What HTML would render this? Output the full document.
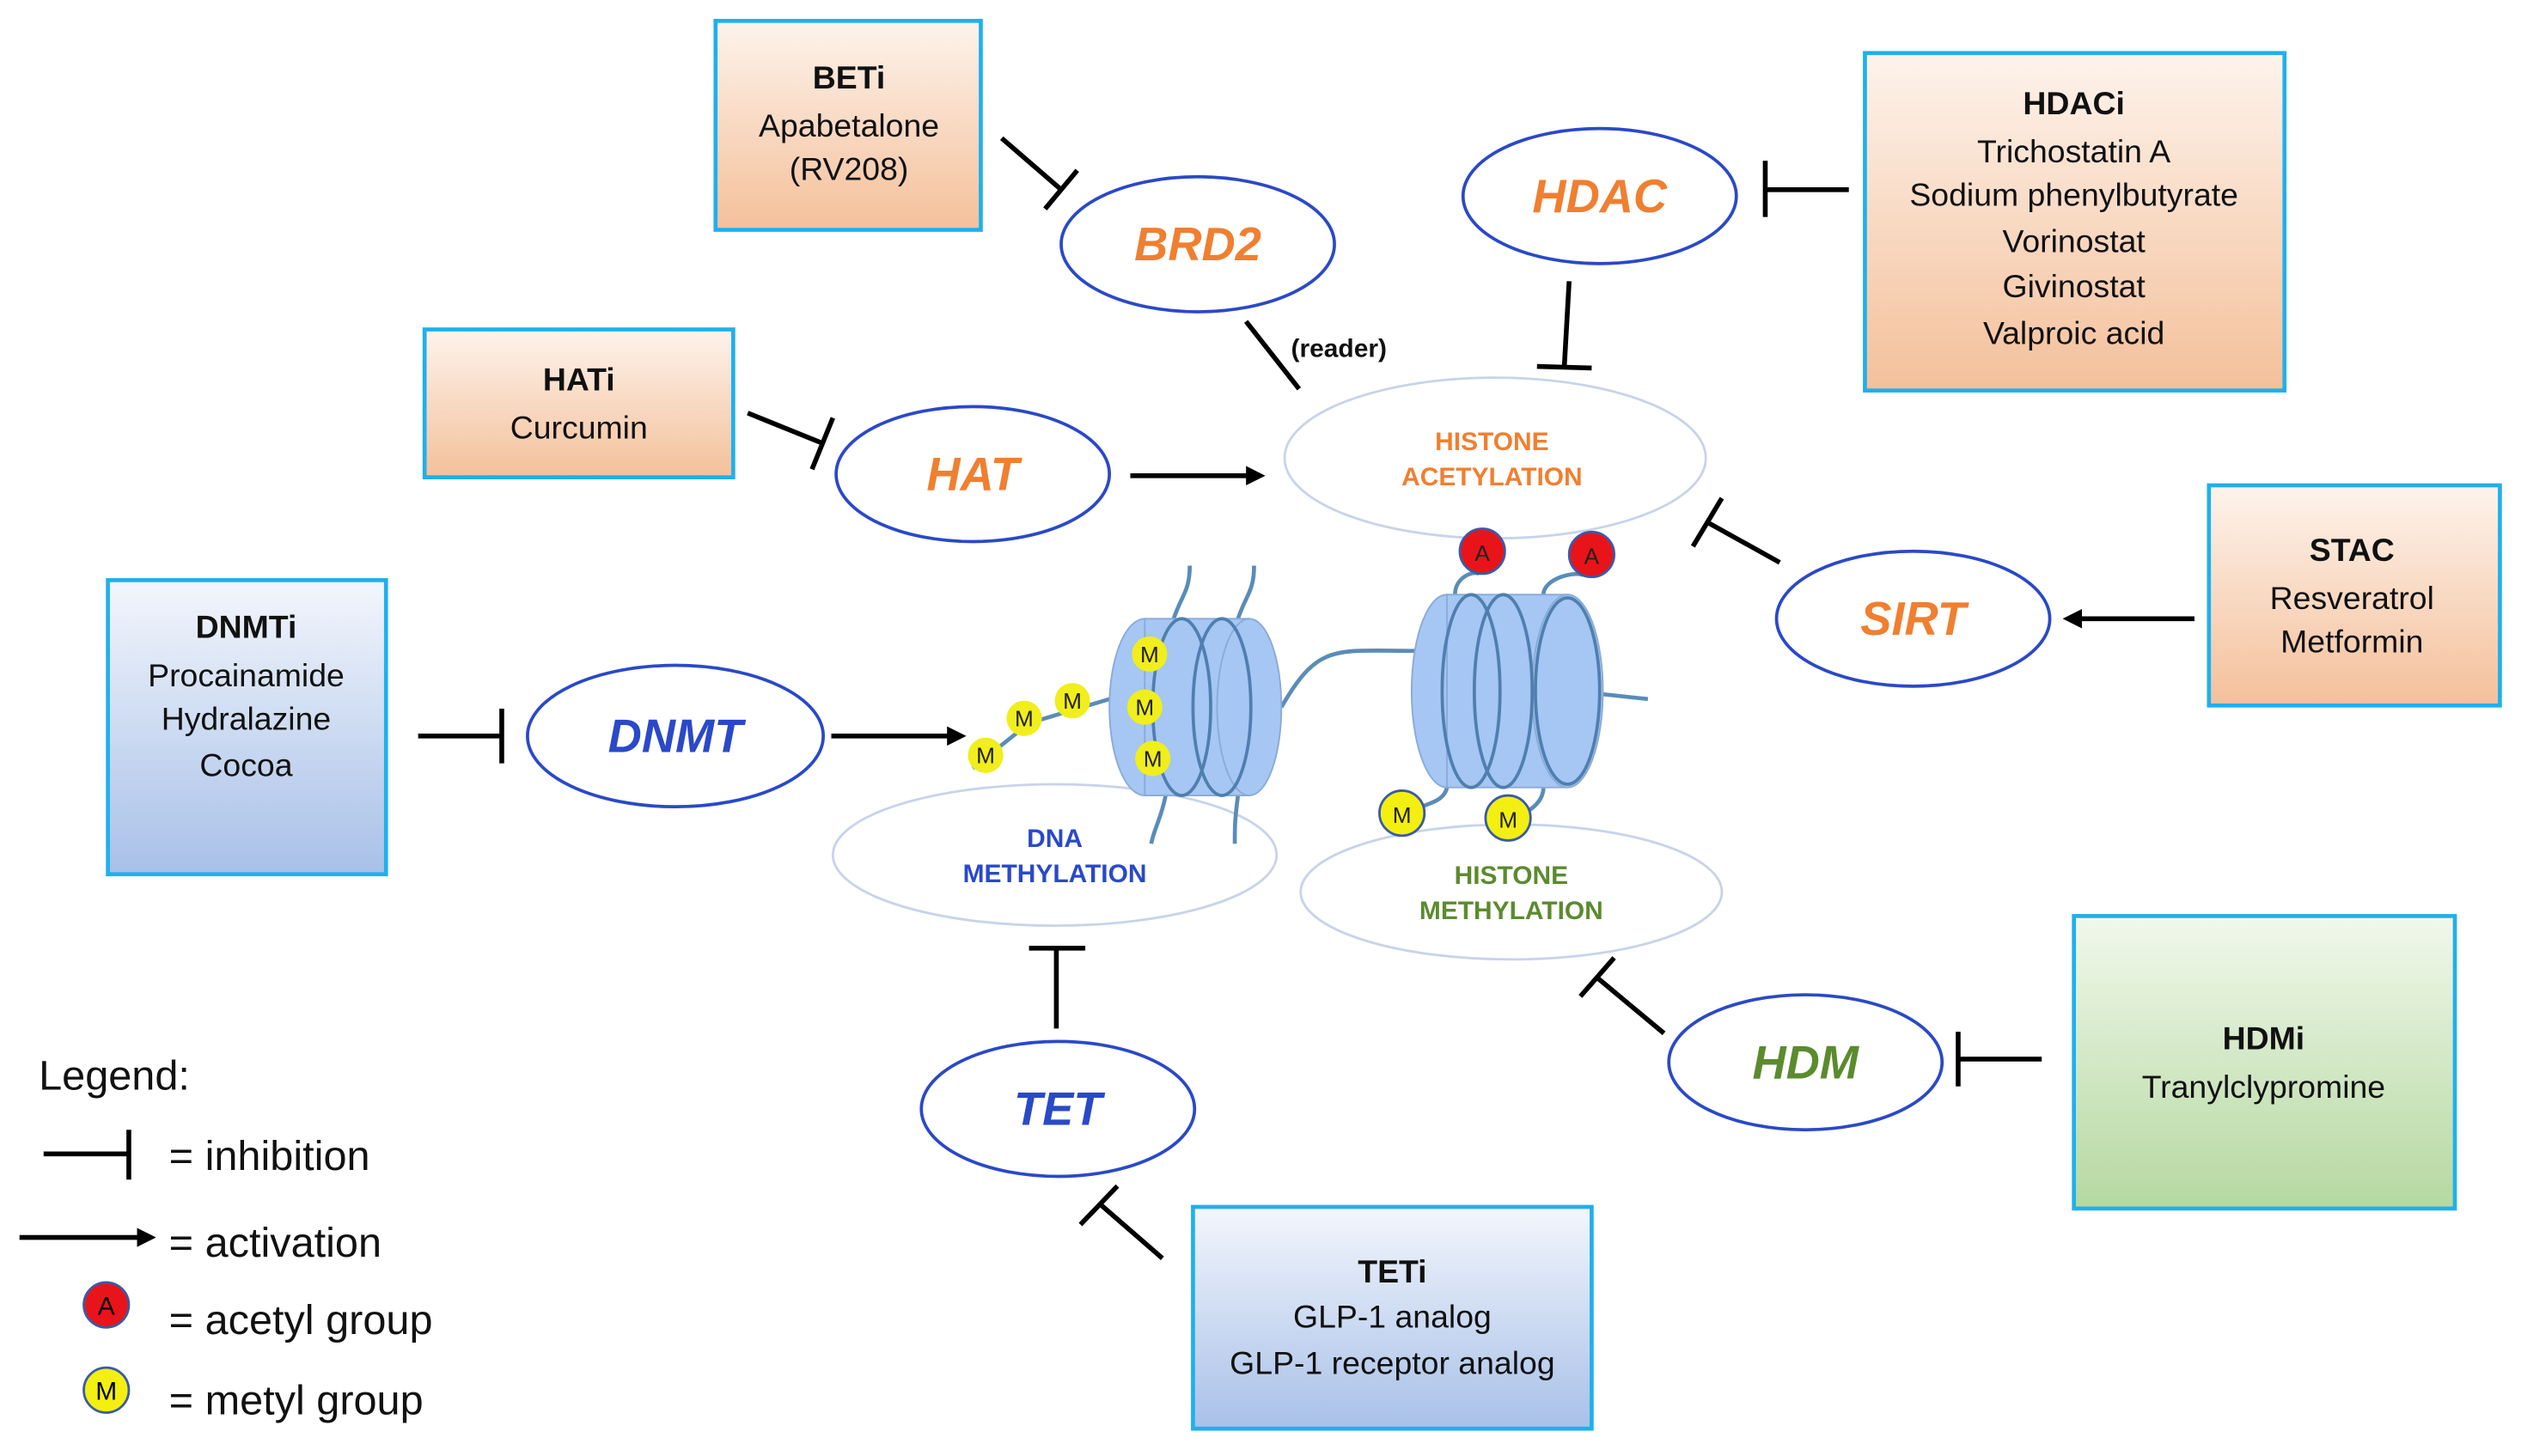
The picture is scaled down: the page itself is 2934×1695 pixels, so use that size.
<!DOCTYPE html>
<html><head><meta charset="utf-8"><style>
html,body{margin:0;padding:0;background:#fff;}
svg{display:block;}
text{font-family:"Liberation Sans",sans-serif;}
</style></head><body>
<svg width="2934" height="1695" viewBox="0 0 1568 906" xmlns="http://www.w3.org/2000/svg">
<defs>
<linearGradient id="og" x1="0" y1="0" x2="0" y2="1"><stop offset="0" stop-color="#fdf3ec"/><stop offset="1" stop-color="#f4c09a"/></linearGradient>
<linearGradient id="bg" x1="0" y1="0" x2="0" y2="1"><stop offset="0" stop-color="#f3f6fc"/><stop offset="1" stop-color="#a8c0e8"/></linearGradient>
<linearGradient id="gg" x1="0" y1="0" x2="0" y2="1"><stop offset="0" stop-color="#f1f8ec"/><stop offset="1" stop-color="#b5d8a0"/></linearGradient>
<marker id="ar" markerWidth="12" markerHeight="12" refX="9" refY="6" orient="auto" markerUnits="userSpaceOnUse"><path d="M0,0 L12,6 L0,12 z" fill="#000"/></marker>
</defs>
<rect width="1568" height="906" fill="#fff"/>

<g stroke="#1fb0ec" stroke-width="2.5">
<rect x="445" y="13" width="165" height="130" fill="url(#og)"/>
<rect x="264" y="205" width="192" height="92" fill="url(#og)"/>
<rect x="1160" y="33" width="261" height="210" fill="url(#og)"/>
<rect x="1374" y="302" width="181" height="137" fill="url(#og)"/>
<rect x="67" y="361" width="173" height="183" fill="url(#bg)"/>
<rect x="1290" y="570" width="237" height="182" fill="url(#gg)"/>
<rect x="742" y="751" width="248" height="138" fill="url(#bg)"/>
</g>
<g font-size="20" text-anchor="middle" fill="#111">
<text x="528" y="55" font-weight="bold">BETi</text><text x="528" y="85">Apabetalone</text><text x="528" y="112">(RV208)</text>
<text x="360" y="243" font-weight="bold">HATi</text><text x="360" y="273">Curcumin</text>
<text x="1290" y="71" font-weight="bold">HDACi</text><text x="1290" y="101">Trichostatin A</text><text x="1290" y="128">Sodium phenylbutyrate</text><text x="1290" y="157">Vorinostat</text><text x="1290" y="185">Givinostat</text><text x="1290" y="214">Valproic acid</text>
<text x="1463" y="349" font-weight="bold">STAC</text><text x="1463" y="379">Resveratrol</text><text x="1463" y="406">Metformin</text>
<text x="153" y="397" font-weight="bold">DNMTi</text><text x="153" y="427">Procainamide</text><text x="153" y="454">Hydralazine</text><text x="153" y="483">Cocoa</text>
<text x="1408" y="653" font-weight="bold">HDMi</text><text x="1408" y="683">Tranylclypromine</text>
<text x="866" y="798" font-weight="bold">TETi</text><text x="866" y="826">GLP-1 analog</text><text x="866" y="855">GLP-1 receptor analog</text>
</g>

<g fill="none" stroke="#c8d3ea" stroke-width="1.5">
<ellipse cx="930" cy="285" rx="131" ry="50"/>
<ellipse cx="656" cy="532" rx="138" ry="44"/>
<ellipse cx="940" cy="555" rx="131" ry="42"/>
</g>
<g font-size="16" font-weight="bold" text-anchor="middle">
<text x="928" y="280" fill="#f07f30">HISTONE</text><text x="928" y="302" fill="#f07f30">ACETYLATION</text>
<text x="656" y="527" fill="#2a49c8">DNA</text><text x="656" y="549" fill="#2a49c8">METHYLATION</text>
<text x="940" y="550" fill="#5b8b2e">HISTONE</text><text x="940" y="572" fill="#5b8b2e">METHYLATION</text>
</g>

<g fill="#fff" stroke="#2a49c8" stroke-width="2">
<ellipse cx="745" cy="152" rx="85" ry="42"/>
<ellipse cx="995" cy="122" rx="85" ry="42"/>
<ellipse cx="605" cy="295" rx="85" ry="42"/>
<ellipse cx="1190" cy="385" rx="85" ry="42"/>
<ellipse cx="420" cy="458" rx="92" ry="44"/>
<ellipse cx="658" cy="690" rx="85" ry="42"/>
<ellipse cx="1123" cy="661" rx="85" ry="42"/>
</g>
<g font-size="29" font-weight="bold" font-style="italic" text-anchor="middle">
<text x="745" y="162" fill="#f07f30">BRD2</text>
<text x="995" y="132" fill="#f07f30">HDAC</text>
<text x="605" y="305" fill="#f07f30">HAT</text>
<text x="1190" y="395" fill="#f07f30">SIRT</text>
<text x="420" y="468" fill="#2a49c8">DNMT</text>
<text x="658" y="700" fill="#2a49c8">TET</text>
<text x="1123" y="671" fill="#5b8b2e">HDM</text>
</g>

<g stroke="#000" stroke-width="3" fill="none" stroke-linecap="butt">
<line x1="623" y1="86" x2="660" y2="118"/><line x1="650" y1="130" x2="670" y2="106"/>
<line x1="775" y1="200" x2="808" y2="242"/>
<line x1="976" y1="175" x2="973" y2="228"/><line x1="956" y1="228" x2="990" y2="229"/>
<line x1="1150" y1="118" x2="1098" y2="118"/><line x1="1098" y1="100" x2="1098" y2="135"/>
<line x1="465" y1="257" x2="512" y2="276"/><line x1="505" y1="292" x2="518" y2="260"/>
<line x1="703" y1="296" x2="784" y2="296" marker-end="url(#ar)"/>
<line x1="1107" y1="350" x2="1062" y2="325"/><line x1="1053" y1="340" x2="1071" y2="310"/>
<line x1="1365" y1="385" x2="1286" y2="385" marker-end="url(#ar)"/>
<line x1="260" y1="458" x2="312" y2="458"/><line x1="312" y1="441" x2="312" y2="475"/>
<line x1="517" y1="458" x2="598" y2="458" marker-end="url(#ar)"/>
<line x1="657" y1="640" x2="657" y2="590"/><line x1="640" y1="590" x2="675" y2="590"/>
<line x1="723" y1="783" x2="685" y2="750"/><line x1="672" y1="762" x2="695" y2="738"/>
<line x1="1035" y1="643" x2="993" y2="608"/><line x1="983" y1="620" x2="1004" y2="596"/>
<line x1="1270" y1="659" x2="1218" y2="659"/><line x1="1218" y1="642" x2="1218" y2="676"/>
</g>
<text x="803" y="222" font-size="16" font-weight="bold" fill="#111">(reader)</text>

<g stroke="#5a8cb8" stroke-width="2.5" fill="none">
<path d="M605,478 L640,450 L690,435"/>
<path d="M797,440 C820,400 830,405 880,405"/>
<path d="M997,432 L1025,435"/>
<path d="M730,385 C735,370 740,368 740,352 M770,385 C775,370 780,368 780,352 M725,495 C722,510 718,515 716,525 M770,495 C768,510 768,515 768,525"/>
<path d="M905,370 C905,360 915,355 920,357 M960,370 C960,360 980,355 985,358 M900,490 C898,500 885,500 878,505 M960,490 C960,500 950,505 945,508"/>
</g>
<g fill="#a6c6f3" stroke="#8aaad8" stroke-width="1">
<ellipse cx="712" cy="440" rx="22" ry="55"/>
<rect x="712" y="385" width="65" height="110"/>
<ellipse cx="777" cy="440" rx="20" ry="55"/>
<ellipse cx="900" cy="430" rx="22" ry="60"/>
<rect x="900" y="370" width="75" height="120"/>
<ellipse cx="975" cy="430" rx="22" ry="60"/>
</g>
<g fill="none" stroke="#4f7fae" stroke-width="2">
<ellipse cx="735" cy="440" rx="18" ry="55"/><ellipse cx="760" cy="440" rx="18" ry="55"/>
<ellipse cx="915" cy="430" rx="18" ry="60"/><ellipse cx="935" cy="430" rx="18" ry="60"/>
<ellipse cx="975" cy="430" rx="20" ry="58"/>
</g>
<g stroke="#3a5aa8" stroke-width="1.5">
<ellipse cx="922" cy="343" rx="14" ry="14" fill="#e8141a"/><ellipse cx="990" cy="345" rx="14" ry="14" fill="#e8141a"/>
<ellipse cx="872" cy="506" rx="14" ry="14" fill="#f3ef10"/><ellipse cx="938" cy="509" rx="14" ry="14" fill="#f3ef10"/>
</g>
<g fill="#f0ee1c">
<circle cx="715" cy="407" r="11"/><circle cx="712" cy="440" r="11"/><circle cx="717" cy="472" r="11"/>
<circle cx="667" cy="436" r="11"/><circle cx="637" cy="447" r="11"/><circle cx="613" cy="470" r="11"/>
</g>
<g font-family="Liberation Serif" font-size="14" text-anchor="middle" fill="#222">
<text x="922" y="349">A</text><text x="990" y="351">A</text>
<text x="872" y="512">M</text><text x="938" y="515">M</text>
<text x="715" y="412">M</text><text x="712" y="445">M</text><text x="717" y="477">M</text>
<text x="667" y="441">M</text><text x="637" y="452">M</text><text x="613" y="475">M</text>
</g>

<g font-size="26" fill="#111">
<text x="24" y="678">Legend:</text>
<text x="105" y="728">= inhibition</text>
<text x="105" y="782">= activation</text>
<text x="105" y="830">= acetyl group</text>
<text x="105" y="880">= metyl group</text>
</g>
<g stroke="#000" stroke-width="3">
<line x1="27" y1="718" x2="80" y2="718"/><line x1="80" y1="703" x2="80" y2="734"/>
<line x1="12" y1="770" x2="94" y2="770" marker-end="url(#ar)"/>
</g>
<circle cx="66" cy="812" r="14" fill="#e8141a" stroke="#3a5aa8" stroke-width="1.5"/>
<circle cx="66" cy="865" r="14" fill="#f3ef10" stroke="#3a5aa8" stroke-width="1.5"/>
<text x="66" y="818" font-family="Liberation Serif" font-size="16" text-anchor="middle">A</text>
<text x="66" y="871" font-family="Liberation Serif" font-size="16" text-anchor="middle">M</text>
</svg>
</body></html>
